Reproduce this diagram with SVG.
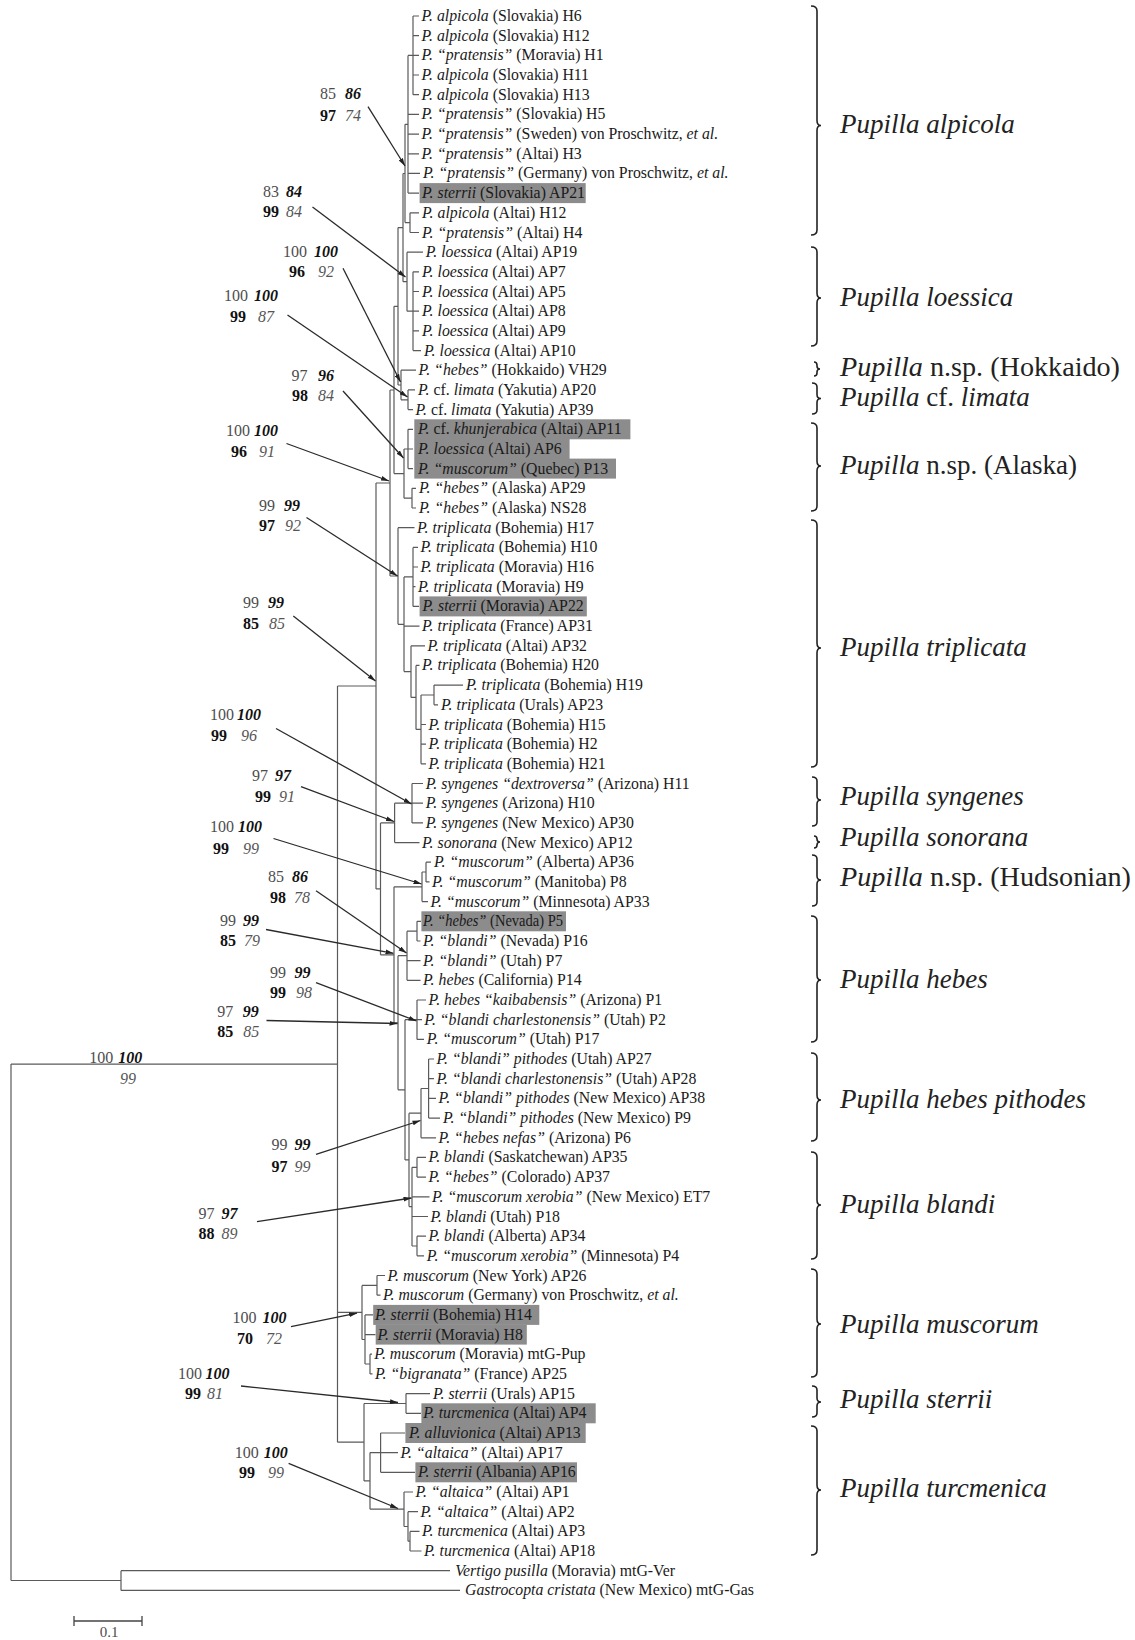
<svg xmlns="http://www.w3.org/2000/svg" width="1135" height="1640" viewBox="0 0 1135 1640">
<style>
.lf{font-family:"Liberation Serif","Times New Roman",serif;font-size:15.8px;fill:#1a1a1a}
.i{font-style:italic}
.cl{font-family:"Liberation Serif","Times New Roman",serif;font-size:27px;fill:#222}
.n{font-family:"Liberation Serif","Times New Roman",serif;font-size:16px}
.r{fill:#4d4d4d}
.bi{font-weight:bold;font-style:italic;fill:#111}
.b{font-weight:bold;fill:#111}
.it{font-style:italic;fill:#555}
.hl{fill:#8c8c8c}
.tree{fill:none;stroke:#5a5a5a;stroke-width:1.2}
.arr{fill:none;stroke:#2a2a2a;stroke-width:1.3;marker-end:url(#ah)}
.br{fill:none;stroke:#222;stroke-width:1.6}
</style>
<defs>
<marker id="ah" viewBox="0 0 10 6" refX="10" refY="3" markerWidth="8" markerHeight="5" orient="auto" markerUnits="userSpaceOnUse"><path d="M0,0L10,3L0,6z" fill="#222"/></marker>
</defs>
<rect width="1135" height="1640" fill="#fff"/>

<g id="connectors">
<path class="tree" d="M413 16V94.7M413 16H419M413 35.7H419M413 55.4H419M413 75H419M413 94.7H419
M408 55.4V193.1M408 55.4H413M408 114.4H419M408 134.1H419M408 153.8H419M408 173.4H420M408 193.1H419
M410 212.8V232.5M410 212.8H419M410 232.5H419
M405 124.3V222.6M405 124.3H408M405 222.6H410
M413 271.8V350.6M413 271.8H419M413 291.5H419M413 311.2H419M413 330.9H419M413 350.6H421
M407 252.2V311.2M407 252.2H423M407 311.2H413
M403 173.5V281.7M403 173.5H405M403 281.7H407
M408 389.9V409.6M408 389.9H415M408 409.6H413
M401 370.2V399.8M401 370.2H416M401 399.8H408
M398 227.6V385M398 227.6H403M398 385H401
M408 429.3V468.6M408 429.3H413M408 449H413M408 468.6H413
M412 488.3V508M412 488.3H416M412 508H416
M404 449V498.2M404 449H408M404 498.2H412
M394 306.3V473.6M394 306.3H398M394 473.6H404
M413 547.4V606.4M413 547.4H418M413 567H418M413 586.7H415.5M413 606.4H419
M434 685.1V704.8M434 685.1H463M434 704.8H438
M421 695V763.8M421 695H434M421 724.5H426M421 744.2H426M421 763.8H426
M416 665.4V729.4M416 665.4H419.5M416 729.4H421
M411 645.8V697.4M411 645.8H425M411 697.4H416
M404 576.9V671.6M404 576.9H413M404 626.1H419.5M404 671.6H411
M398 527.7V624.3M398 527.7H414.5M398 624.3H404
M390 390V576M390 390H394M390 576H398
M412 783.5V822.9M412 783.5H423M412 803.2H423M412 822.9H423
M394.6 803.2V842.6M394.6 803.2H412M394.6 842.6H419.5
M426 862.2V881.9M426 862.2H431M426 881.9H429.5
M422 872V901.6M422 872H426M422 901.6H428
M417 921.3V941M417 921.3H421M417 941H420.5
M407 931.2V980.3M407 931.2H417M407 960.6H420.5M407 980.3H420.5
M417 1000V1039.4M417 1000H426M417 1019.7H422M417 1039.4H424
M428.6 1059V1118.1M428.6 1059H434M428.6 1078.7H434M428.6 1098.4H436M428.6 1118.1H440
M421 1088.5V1137.8M421 1088.5H428.6M421 1137.8H436
M417 1157.4V1177.1M417 1157.4H426M417 1177.1H426
M417 1236.2V1255.8M417 1236.2H426M417 1255.8H424
M412 1167.3V1246M412 1167.3H417M412 1196.8H429.5M412 1216.5H428M412 1246H417
M409 1113.2V1206.6M409 1113.2H421M409 1206.6H412
M405 1019.7V1159.9M405 1019.7H417M405 1159.9H409
M398 955.7V1089.8M398 955.7H407M398 1089.8H405
M394 886.8V1022.8M394 886.8H422M394 1022.8H398
M380.5 822.9V954.8M380.5 822.9H394.6M380.5 954.8H394
M376 483V888.9M376 483H390M376 888.9H380.5
M377 1275.5V1295.2M377 1275.5H385M377 1295.2H380.5
M370 1354.2V1373.9M370 1354.2H372M370 1373.9H372.5
M365 1314.9V1364M365 1314.9H373M365 1334.6H375.5M365 1364H370
M362 1285.4V1339.5M362 1285.4H377M362 1339.5H365
M406 1393.6V1413.3M406 1393.6H430M406 1413.3H421
M380.6 1433V1472.3M380.6 1433H405M380.6 1452.6H398M380.6 1472.3H415
M410 1531.4V1551M410 1531.4H419.5M410 1551H421.5
M408 1511.7V1541.2M408 1511.7H418M408 1541.2H410
M404 1492V1526.5M404 1492H413M404 1526.5H408
M370 1452.6V1509.2M370 1452.6H380.6M370 1509.2H404
M364 1403.5V1480.9M364 1403.5H406M364 1480.9H370
M337.5 686V1442.2M337.5 686H376M337.5 1312.4H362M337.5 1442.2H364
M121 1570.7V1590.4M121 1570.7H450M121 1590.4H460
M11 1064.1V1580.5M11 1064.1H337.5M11 1580.5H121"/>
<path class="arr" d="M368 106.7L405 166"/>
<path class="arr" d="M312.5 207L405.5 277"/>
<path class="arr" d="M343 268.3L400.5 382"/>
<path class="arr" d="M287.5 315L407.5 397"/>
<path class="arr" d="M343 391L403.5 458"/>
<path class="arr" d="M286.5 443.5L389 481"/>
<path class="arr" d="M306.5 517.5L397.5 576"/>
<path class="arr" d="M293.3 616L375.5 681"/>
<path class="arr" d="M276 728.5L411.5 804"/>
<path class="arr" d="M301 786.7L394 821.5"/>
<path class="arr" d="M273.5 838.5L421.5 884"/>
<path class="arr" d="M316 890.7L406.5 953"/>
<path class="arr" d="M266 929.5L393.5 953.3"/>
<path class="arr" d="M316 982.7L416.5 1021"/>
<path class="arr" d="M266.5 1020.5L397.5 1023.5"/>
<path class="arr" d="M316 1154.3L420.5 1120.5"/>
<path class="arr" d="M257 1221.7L411.5 1198"/>
<path class="arr" d="M291 1326.7L357 1313.2"/>
<path class="arr" d="M241 1386L398 1402.5"/>
<path class="arr" d="M288.6 1463.3L398 1508.5"/>
</g>

<g id="leaves">
<g id="leaf-1"><text class="lf" x="421.4" y="21"><tspan class="i">P. alpicola</tspan> (Slovakia) H6</text></g>
<g id="leaf-2"><text class="lf" x="421.4" y="40.7"><tspan class="i">P. alpicola</tspan> (Slovakia) H12</text></g>
<g id="leaf-3"><text class="lf" x="421.4" y="60.4"><tspan class="i">P. “pratensis”</tspan> (Moravia) H1</text></g>
<g id="leaf-4"><text class="lf" x="421.4" y="80"><tspan class="i">P. alpicola</tspan> (Slovakia) H11</text></g>
<g id="leaf-5"><text class="lf" x="421.4" y="99.7"><tspan class="i">P. alpicola</tspan> (Slovakia) H13</text></g>
<g id="leaf-6"><text class="lf" x="421.4" y="119.4"><tspan class="i">P. “pratensis”</tspan> (Slovakia) H5</text></g>
<g id="leaf-7"><text class="lf" x="421.4" y="139.1"><tspan class="i">P. “pratensis”</tspan> (Sweden) von Proschwitz, <tspan class="i">et al.</tspan></text></g>
<g id="leaf-8"><text class="lf" x="421.4" y="158.8"><tspan class="i">P. “pratensis”</tspan> (Altai) H3</text></g>
<g id="leaf-9"><text class="lf" x="423" y="178.4"><tspan class="i">P. “pratensis”</tspan> (Germany) von Proschwitz, <tspan class="i">et al.</tspan></text></g>
<g id="leaf-10"><rect class="hl" x="419.6" y="183.1" width="166.1" height="20"/><text class="lf" x="422" y="198.1"><tspan class="i">P. sterrii</tspan> (Slovakia) AP21</text></g>
<g id="leaf-11"><text class="lf" x="422" y="217.8"><tspan class="i">P. alpicola</tspan> (Altai) H12</text></g>
<g id="leaf-12"><text class="lf" x="422" y="237.5"><tspan class="i">P. “pratensis”</tspan> (Altai) H4</text></g>
<g id="leaf-13"><text class="lf" x="425.7" y="257.2"><tspan class="i">P. loessica</tspan> (Altai) AP19</text></g>
<g id="leaf-14"><text class="lf" x="422" y="276.8"><tspan class="i">P. loessica</tspan> (Altai) AP7</text></g>
<g id="leaf-15"><text class="lf" x="422" y="296.5"><tspan class="i">P. loessica</tspan> (Altai) AP5</text></g>
<g id="leaf-16"><text class="lf" x="422" y="316.2"><tspan class="i">P. loessica</tspan> (Altai) AP8</text></g>
<g id="leaf-17"><text class="lf" x="422" y="335.9"><tspan class="i">P. loessica</tspan> (Altai) AP9</text></g>
<g id="leaf-18"><text class="lf" x="424" y="355.6"><tspan class="i">P. loessica</tspan> (Altai) AP10</text></g>
<g id="leaf-19"><text class="lf" x="418.6" y="375.2"><tspan class="i">P. “hebes”</tspan> (Hokkaido) VH29</text></g>
<g id="leaf-20"><text class="lf" x="418" y="394.9"><tspan class="i">P.</tspan> cf. <tspan class="i">limata</tspan> (Yakutia) AP20</text></g>
<g id="leaf-21"><text class="lf" x="415.4" y="414.6"><tspan class="i">P.</tspan> cf. <tspan class="i">limata</tspan> (Yakutia) AP39</text></g>
<g id="leaf-22"><rect class="hl" x="414.3" y="419.3" width="216.1" height="20"/><text class="lf" x="418" y="434.3"><tspan class="i">P.</tspan> cf. <tspan class="i">khunjerabica</tspan> (Altai) AP11</text></g>
<g id="leaf-23"><rect class="hl" x="414.3" y="439" width="155.3" height="20"/><text class="lf" x="418" y="454"><tspan class="i">P. loessica</tspan> (Altai) AP6</text></g>
<g id="leaf-24"><rect class="hl" x="414.3" y="458.6" width="201.7" height="20"/><text class="lf" x="418" y="473.6"><tspan class="i">P. “muscorum”</tspan> (Quebec) P13</text></g>
<g id="leaf-25"><text class="lf" x="419" y="493.3"><tspan class="i">P. “hebes”</tspan> (Alaska) AP29</text></g>
<g id="leaf-26"><text class="lf" x="419" y="513"><tspan class="i">P. “hebes”</tspan> (Alaska) NS28</text></g>
<g id="leaf-27"><text class="lf" x="417" y="532.7"><tspan class="i">P. triplicata</tspan> (Bohemia) H17</text></g>
<g id="leaf-28"><text class="lf" x="420.4" y="552.4"><tspan class="i">P. triplicata</tspan> (Bohemia) H10</text></g>
<g id="leaf-29"><text class="lf" x="420.4" y="572"><tspan class="i">P. triplicata</tspan> (Moravia) H16</text></g>
<g id="leaf-30"><text class="lf" x="418" y="591.7"><tspan class="i">P. triplicata</tspan> (Moravia) H9</text></g>
<g id="leaf-31"><rect class="hl" x="419.6" y="596.4" width="167.2" height="20"/><text class="lf" x="422.5" y="611.4"><tspan class="i">P. sterrii</tspan> (Moravia) AP22</text></g>
<g id="leaf-32"><text class="lf" x="422" y="631.1"><tspan class="i">P. triplicata</tspan> (France) AP31</text></g>
<g id="leaf-33"><text class="lf" x="427.5" y="650.8"><tspan class="i">P. triplicata</tspan> (Altai) AP32</text></g>
<g id="leaf-34"><text class="lf" x="422" y="670.4"><tspan class="i">P. triplicata</tspan> (Bohemia) H20</text></g>
<g id="leaf-35"><text class="lf" x="466" y="690.1"><tspan class="i">P. triplicata</tspan> (Bohemia) H19</text></g>
<g id="leaf-36"><text class="lf" x="441" y="709.8"><tspan class="i">P. triplicata</tspan> (Urals) AP23</text></g>
<g id="leaf-37"><text class="lf" x="428.6" y="729.5"><tspan class="i">P. triplicata</tspan> (Bohemia) H15</text></g>
<g id="leaf-38"><text class="lf" x="428.6" y="749.2"><tspan class="i">P. triplicata</tspan> (Bohemia) H2</text></g>
<g id="leaf-39"><text class="lf" x="428.6" y="768.8"><tspan class="i">P. triplicata</tspan> (Bohemia) H21</text></g>
<g id="leaf-40"><text class="lf" x="425.7" y="788.5"><tspan class="i">P. syngenes “dextroversa”</tspan> (Arizona) H11</text></g>
<g id="leaf-41"><text class="lf" x="425.7" y="808.2"><tspan class="i">P. syngenes</tspan> (Arizona) H10</text></g>
<g id="leaf-42"><text class="lf" x="425.7" y="827.9"><tspan class="i">P. syngenes</tspan> (New Mexico) AP30</text></g>
<g id="leaf-43"><text class="lf" x="422" y="847.6"><tspan class="i">P. sonorana</tspan> (New Mexico) AP12</text></g>
<g id="leaf-44"><text class="lf" x="434" y="867.2"><tspan class="i">P. “muscorum”</tspan> (Alberta) AP36</text></g>
<g id="leaf-45"><text class="lf" x="432" y="886.9"><tspan class="i">P. “muscorum”</tspan> (Manitoba) P8</text></g>
<g id="leaf-46"><text class="lf" x="430.4" y="906.6"><tspan class="i">P. “muscorum”</tspan> (Minnesota) AP33</text></g>
<g id="leaf-47"><rect class="hl" x="421.4" y="911.3" width="144.6" height="20"/><text class="lf" x="423" y="926.3" textLength="140" lengthAdjust="spacingAndGlyphs"><tspan class="i">P. “hebes”</tspan> (Nevada) P5</text></g>
<g id="leaf-48"><text class="lf" x="423" y="946"><tspan class="i">P. “blandi”</tspan> (Nevada) P16</text></g>
<g id="leaf-49"><text class="lf" x="423" y="965.6"><tspan class="i">P. “blandi”</tspan> (Utah) P7</text></g>
<g id="leaf-50"><text class="lf" x="423" y="985.3"><tspan class="i">P. hebes</tspan> (California) P14</text></g>
<g id="leaf-51"><text class="lf" x="428.6" y="1005"><tspan class="i">P. hebes “kaibabensis”</tspan> (Arizona) P1</text></g>
<g id="leaf-52"><text class="lf" x="424.3" y="1024.7"><tspan class="i">P. “blandi charlestonensis”</tspan> (Utah) P2</text></g>
<g id="leaf-53"><text class="lf" x="426.8" y="1044.4"><tspan class="i">P. “muscorum”</tspan> (Utah) P17</text></g>
<g id="leaf-54"><text class="lf" x="436.4" y="1064"><tspan class="i">P. “blandi” pithodes</tspan> (Utah) AP27</text></g>
<g id="leaf-55"><text class="lf" x="436.4" y="1083.7"><tspan class="i">P. “blandi charlestonensis”</tspan> (Utah) AP28</text></g>
<g id="leaf-56"><text class="lf" x="438.6" y="1103.4"><tspan class="i">P. “blandi” pithodes</tspan> (New Mexico) AP38</text></g>
<g id="leaf-57"><text class="lf" x="442.9" y="1123.1"><tspan class="i">P. “blandi” pithodes</tspan> (New Mexico) P9</text></g>
<g id="leaf-58"><text class="lf" x="438.6" y="1142.8"><tspan class="i">P. “hebes nefas”</tspan> (Arizona) P6</text></g>
<g id="leaf-59"><text class="lf" x="428.6" y="1162.4"><tspan class="i">P. blandi</tspan> (Saskatchewan) AP35</text></g>
<g id="leaf-60"><text class="lf" x="428.6" y="1182.1"><tspan class="i">P. “hebes”</tspan> (Colorado) AP37</text></g>
<g id="leaf-61"><text class="lf" x="432" y="1201.8"><tspan class="i">P. “muscorum xerobia”</tspan> (New Mexico) ET7</text></g>
<g id="leaf-62"><text class="lf" x="430.4" y="1221.5"><tspan class="i">P. blandi</tspan> (Utah) P18</text></g>
<g id="leaf-63"><text class="lf" x="428.6" y="1241.2"><tspan class="i">P. blandi</tspan> (Alberta) AP34</text></g>
<g id="leaf-64"><text class="lf" x="426.8" y="1260.8"><tspan class="i">P. “muscorum xerobia”</tspan> (Minnesota) P4</text></g>
<g id="leaf-65"><text class="lf" x="387.5" y="1280.5"><tspan class="i">P. muscorum</tspan> (New York) AP26</text></g>
<g id="leaf-66"><text class="lf" x="382.9" y="1300.2"><tspan class="i">P. muscorum</tspan> (Germany) von Proschwitz, <tspan class="i">et al.</tspan></text></g>
<g id="leaf-67"><rect class="hl" x="373.2" y="1304.9" width="166.1" height="20"/><text class="lf" x="375" y="1319.9"><tspan class="i">P. sterrii</tspan> (Bohemia) H14</text></g>
<g id="leaf-68"><rect class="hl" x="375.7" y="1324.6" width="151.1" height="20"/><text class="lf" x="377.5" y="1339.6"><tspan class="i">P. sterrii</tspan> (Moravia) H8</text></g>
<g id="leaf-69"><text class="lf" x="374.3" y="1359.2"><tspan class="i">P. muscorum</tspan> (Moravia) mtG-Pup</text></g>
<g id="leaf-70"><text class="lf" x="375" y="1378.9"><tspan class="i">P. “bigranata”</tspan> (France) AP25</text></g>
<g id="leaf-71"><text class="lf" x="432.9" y="1398.6"><tspan class="i">P. sterrii</tspan> (Urals) AP15</text></g>
<g id="leaf-72"><rect class="hl" x="421.4" y="1403.3" width="174.3" height="20"/><text class="lf" x="423.2" y="1418.3"><tspan class="i">P. turcmenica</tspan> (Altai) AP4</text></g>
<g id="leaf-73"><rect class="hl" x="405.4" y="1423" width="180.3" height="20"/><text class="lf" x="409" y="1438"><tspan class="i">P. alluvionica</tspan> (Altai) AP13</text></g>
<g id="leaf-74"><text class="lf" x="400.5" y="1457.6"><tspan class="i">P. “altaica”</tspan> (Altai) AP17</text></g>
<g id="leaf-75"><rect class="hl" x="415.4" y="1462.3" width="161.6" height="20"/><text class="lf" x="418" y="1477.3"><tspan class="i">P. sterrii</tspan> (Albania) AP16</text></g>
<g id="leaf-76"><text class="lf" x="415.4" y="1497"><tspan class="i">P. “altaica”</tspan> (Altai) AP1</text></g>
<g id="leaf-77"><text class="lf" x="420.4" y="1516.7"><tspan class="i">P. “altaica”</tspan> (Altai) AP2</text></g>
<g id="leaf-78"><text class="lf" x="421.9" y="1536.4"><tspan class="i">P. turcmenica</tspan> (Altai) AP3</text></g>
<g id="leaf-79"><text class="lf" x="424" y="1556"><tspan class="i">P. turcmenica</tspan> (Altai) AP18</text></g>
<g id="leaf-80"><text class="lf" x="455.2" y="1575.7"><tspan class="i">Vertigo pusilla</tspan> (Moravia) mtG-Ver</text></g>
<g id="leaf-81"><text class="lf" x="465" y="1595.4"><tspan class="i">Gastrocopta cristata</tspan> (New Mexico) mtG-Gas</text></g>
</g>

<g id="supports">
<g id="sup-A"><text class="n r" x="336" y="98.8" text-anchor="end">85</text><text class="n bi" x="345" y="98.8">86</text><text class="n b" x="336" y="120.5" text-anchor="end">97</text><text class="n it" x="345" y="120.5">74</text></g>
<g id="sup-B"><text class="n r" x="279" y="197.2" text-anchor="end">83</text><text class="n bi" x="286" y="197.2">84</text><text class="n b" x="279" y="216.5" text-anchor="end">99</text><text class="n it" x="286" y="216.5">84</text></g>
<g id="sup-C"><text class="n r" x="307" y="257.2" text-anchor="end">100</text><text class="n bi" x="314" y="257.2">100</text><text class="n b" x="305" y="277.2" text-anchor="end">96</text><text class="n it" x="318" y="277.2">92</text></g>
<g id="sup-D"><text class="n r" x="248" y="301.2" text-anchor="end">100</text><text class="n bi" x="254" y="301.2">100</text><text class="n b" x="246" y="322.2" text-anchor="end">99</text><text class="n it" x="258" y="322.2">87</text></g>
<g id="sup-E"><text class="n r" x="307.5" y="381.2" text-anchor="end">97</text><text class="n bi" x="318" y="381.2">96</text><text class="n b" x="308" y="401.2" text-anchor="end">98</text><text class="n it" x="318" y="401.2">84</text></g>
<g id="sup-F"><text class="n r" x="250" y="436.2" text-anchor="end">100</text><text class="n bi" x="254" y="436.2">100</text><text class="n b" x="247" y="457.2" text-anchor="end">96</text><text class="n it" x="259" y="457.2">91</text></g>
<g id="sup-G"><text class="n r" x="275" y="511.2" text-anchor="end">99</text><text class="n bi" x="284" y="511.2">99</text><text class="n b" x="275" y="530.5" text-anchor="end">97</text><text class="n it" x="285" y="530.5">92</text></g>
<g id="sup-H"><text class="n r" x="259" y="608.2" text-anchor="end">99</text><text class="n bi" x="268" y="608.2">99</text><text class="n b" x="259" y="628.5" text-anchor="end">85</text><text class="n it" x="269" y="628.5">85</text></g>
<g id="sup-I"><text class="n r" x="234" y="719.8" text-anchor="end">100</text><text class="n bi" x="237" y="719.8">100</text><text class="n b" x="227" y="740.5" text-anchor="end">99</text><text class="n it" x="241" y="740.5">96</text></g>
<g id="sup-J"><text class="n r" x="268" y="781.2" text-anchor="end">97</text><text class="n bi" x="275" y="781.2">97</text><text class="n b" x="271" y="802.2" text-anchor="end">99</text><text class="n it" x="279" y="802.2">91</text></g>
<g id="sup-K"><text class="n r" x="234" y="832.2" text-anchor="end">100</text><text class="n bi" x="238" y="832.2">100</text><text class="n b" x="229" y="853.5" text-anchor="end">99</text><text class="n it" x="243" y="853.5">99</text></g>
<g id="sup-L"><text class="n r" x="284" y="882.2" text-anchor="end">85</text><text class="n bi" x="292" y="882.2">86</text><text class="n b" x="286" y="902.8" text-anchor="end">98</text><text class="n it" x="294" y="902.8">78</text></g>
<g id="sup-M"><text class="n r" x="236" y="925.5" text-anchor="end">99</text><text class="n bi" x="243" y="925.5">99</text><text class="n b" x="236" y="946.2" text-anchor="end">85</text><text class="n it" x="244" y="946.2">79</text></g>
<g id="sup-N"><text class="n r" x="286" y="978.2" text-anchor="end">99</text><text class="n bi" x="294.6" y="978.2">99</text><text class="n b" x="286" y="998.2" text-anchor="end">99</text><text class="n it" x="296" y="998.2">98</text></g>
<g id="sup-O"><text class="n r" x="233.3" y="1016.7" text-anchor="end">97</text><text class="n bi" x="242.7" y="1016.7">99</text><text class="n b" x="233.3" y="1037" text-anchor="end">85</text><text class="n it" x="243.3" y="1037">85</text></g>
<g id="sup-root"><text class="n r" x="113.3" y="1062.8" text-anchor="end">100</text><text class="n bi" x="118.3" y="1062.8">100</text><text class="n it" x="120" y="1083.8">99</text></g>
<g id="sup-P"><text class="n r" x="287.5" y="1150.3" text-anchor="end">99</text><text class="n bi" x="294.6" y="1150.3">99</text><text class="n b" x="287.5" y="1172.2" text-anchor="end">97</text><text class="n it" x="294.6" y="1172.2">99</text></g>
<g id="sup-Q"><text class="n r" x="214.4" y="1218.8" text-anchor="end">97</text><text class="n bi" x="221.6" y="1218.8">97</text><text class="n b" x="214.4" y="1238.8" text-anchor="end">88</text><text class="n it" x="221.6" y="1238.8">89</text></g>
<g id="sup-R"><text class="n r" x="256.4" y="1322.8" text-anchor="end">100</text><text class="n bi" x="262.5" y="1322.8">100</text><text class="n b" x="253" y="1343.8" text-anchor="end">70</text><text class="n it" x="266" y="1343.8">72</text></g>
<g id="sup-S"><text class="n r" x="202" y="1378.5" text-anchor="end">100</text><text class="n bi" x="205.5" y="1378.5">100</text><text class="n b" x="201" y="1399" text-anchor="end">99</text><text class="n it" x="207" y="1399">81</text></g>
<g id="sup-T"><text class="n r" x="258.7" y="1458.2" text-anchor="end">100</text><text class="n bi" x="263.7" y="1458.2">100</text><text class="n b" x="255" y="1478.2" text-anchor="end">99</text><text class="n it" x="268" y="1478.2">99</text></g>
</g>

<g id="clades">
<g id="clade-alpicola"><path class="br" d="M811 6Q817 6 817 11V120.5Q817 125.5 821 125.5Q817 125.5 817 130.5V230Q817 235 811 235"/><text class="cl i" x="840" y="133">Pupilla alpicola</text></g>
<g id="clade-loessica"><path class="br" d="M811 247Q817 247 817 252V293Q817 298 821 298Q817 298 817 303V341Q817 346 811 346"/><text class="cl i" x="840" y="305.5">Pupilla loessica</text></g>
<g id="clade-hokkaido"><path class="br" d="M814 362Q817 362 817 365V366Q817 369 820 369Q817 369 817 372V373Q817 376 814 376"/><text class="cl" x="840" y="376" textLength="280" lengthAdjust="spacingAndGlyphs"><tspan class="i">Pupilla</tspan> n.sp. (Hokkaido)</text></g>
<g id="clade-limata"><path class="br" d="M812 383Q817 383 817 387V394.5Q817 398.5 821 398.5Q817 398.5 817 402.5V410Q817 414 812 414"/><text class="cl" x="840" y="406"><tspan class="i">Pupilla</tspan> cf. <tspan class="i">limata</tspan></text></g>
<g id="clade-alaska"><path class="br" d="M811 423Q817 423 817 428V461Q817 466 821 466Q817 466 817 471V506Q817 511 811 511"/><text class="cl" x="840" y="473.5"><tspan class="i">Pupilla</tspan> n.sp. (Alaska)</text></g>
<g id="clade-triplicata"><path class="br" d="M811 520Q817 520 817 525V643Q817 648 821 648Q817 648 817 653V762Q817 767 811 767"/><text class="cl i" x="840" y="656">Pupilla triplicata</text></g>
<g id="clade-syngenes"><path class="br" d="M812 777Q817 777 817 781V796Q817 800 821 800Q817 800 817 804V822Q817 826 812 826"/><text class="cl i" x="840" y="804.5">Pupilla syngenes</text></g>
<g id="clade-sonorana"><path class="br" d="M814 836Q817 836 817 839Q817 842 820 842Q817 842 817 845Q817 848 814 848"/><text class="cl i" x="840" y="845.5">Pupilla sonorana</text></g>
<g id="clade-hudsonian"><path class="br" d="M812 855Q817 855 817 859V876Q817 880 821 880Q817 880 817 884V902Q817 906 812 906"/><text class="cl" x="840" y="886" textLength="291" lengthAdjust="spacingAndGlyphs"><tspan class="i">Pupilla</tspan> n.sp. (Hudsonian)</text></g>
<g id="clade-hebes"><path class="br" d="M811 916Q817 916 817 921V975Q817 980 821 980Q817 980 817 985V1037Q817 1042 811 1042"/><text class="cl i" x="840" y="987.5">Pupilla hebes</text></g>
<g id="clade-pithodes"><path class="br" d="M811 1053Q817 1053 817 1058V1095Q817 1100 821 1100Q817 1100 817 1105V1136Q817 1141 811 1141"/><text class="cl i" x="840" y="1107.5">Pupilla hebes pithodes</text></g>
<g id="clade-blandi"><path class="br" d="M811 1152Q817 1152 817 1157V1200Q817 1205 821 1205Q817 1205 817 1210V1254Q817 1259 811 1259"/><text class="cl i" x="840" y="1212.5">Pupilla blandi</text></g>
<g id="clade-muscorum"><path class="br" d="M811 1269Q817 1269 817 1274V1319Q817 1324 821 1324Q817 1324 817 1329V1372Q817 1377 811 1377"/><text class="cl i" x="840" y="1332.5">Pupilla muscorum</text></g>
<g id="clade-sterrii"><path class="br" d="M812 1386Q817 1386 817 1390V1398Q817 1402 821 1402Q817 1402 817 1406V1413Q817 1417 812 1417"/><text class="cl i" x="840" y="1407.5">Pupilla sterrii</text></g>
<g id="clade-turcmenica"><path class="br" d="M811 1426Q817 1426 817 1431V1485Q817 1490 821 1490Q817 1490 817 1495V1550Q817 1555 811 1555"/><text class="cl i" x="840" y="1497">Pupilla turcmenica</text></g>
</g>

<g id="scale-bar">
<path d="M74 1621H142M74 1616V1626M142 1616V1626" fill="none" stroke="#444" stroke-width="1.3"/>
<text class="n r" x="109" y="1637" text-anchor="middle" style="font-size:15px">0.1</text>
</g>
</svg>
